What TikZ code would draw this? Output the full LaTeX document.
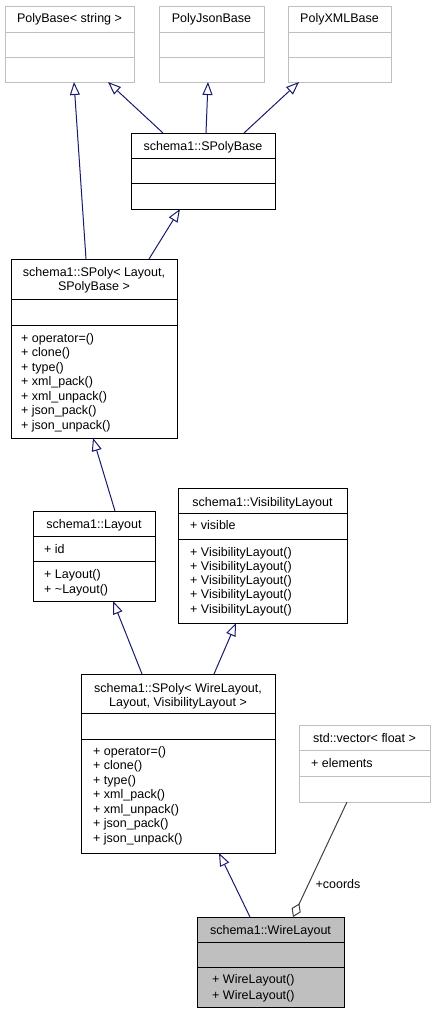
\documentclass[tikz,border=0pt]{standalone}
\usepackage{fontspec}
\setmainfont{Liberation Sans}
\usetikzlibrary{arrows.meta}
\definecolor{edgeblue}{HTML}{191970}
\definecolor{ghost}{HTML}{BFBFBF}
\definecolor{aggr}{HTML}{404040}
\definecolor{hilite}{HTML}{BFBFBF}
\newcommand\fsz{\fontsize{12.5}{14.5}\selectfont}
\newcommand\umlbox[9]{% name, style, x1,y1,x2,y2,d1,d2,divcolor
  \node[#2, minimum width={(#5-#3)*1pt}, minimum height={(#6-#4)*1pt}] (#1) at (#3,#4) {};
  \draw[#9, line width=1pt] (#3,#7) -- (#5,#7) (#3,#8) -- (#5,#8);
}
\tikzset{
  boxnode/.style={draw=black, line width=1pt, inner sep=0pt, outer sep=0pt, anchor=north west},
  ghostbox/.style={boxnode, draw=ghost},
  hibox/.style={boxnode, fill=hilite},
  ttl/.style={anchor=base, inner sep=0pt, font=\fsz},
  mem/.style={anchor=base west, inner sep=0pt, font=\fsz},
  inherit/.style={draw=edgeblue, line width=1pt, -{Triangle[open, length=13pt, width=10pt]}},
  aggregate/.style={draw=aggr, line width=1pt, -{Diamond[open, length=15pt, width=10pt]}},
}
\begin{document}
\begin{tikzpicture}[x=1pt, y=-1pt]
\useasboundingbox (0,0) rectangle (435,1013);

% boxes
\umlbox{pb}{ghostbox}{5}{6}{134}{82}{32}{57}{ghost}
\umlbox{pj}{ghostbox}{159}{6}{264}{82}{32}{57}{ghost}
\umlbox{px}{ghostbox}{288}{6}{391}{82}{32}{57}{ghost}
\umlbox{spb}{boxnode}{131}{133}{275}{209}{158}{183}{black}
\umlbox{spA}{boxnode}{11}{259}{177}{438}{299}{325}{black}
\umlbox{lay}{boxnode}{33}{511}{155}{601}{536}{561}{black}
\umlbox{vis}{boxnode}{178}{488}{347}{623}{513}{539}{black}
\umlbox{spW}{boxnode}{81}{674}{275}{853}{713}{739}{black}
\umlbox{vec}{ghostbox}{299}{725}{430}{802}{750}{776}{ghost}
\umlbox{wire}{hibox}{197}{917}{344}{1007}{942}{967}{black}

% titles
\node[ttl] (pbT) at (69.5,22) {PolyBase< string >};
\node[ttl] (pjT) at (211.5,22) {PolyJsonBase};
\node[ttl] (pxT) at (339.5,22) {PolyXMLBase};
\node[ttl] (spbT) at (203,150) {schema1::SPolyBase};
\node[ttl] (spAT1) at (94,276) {schema1::SPoly< Layout,};
\node[ttl] (spAT2) at (94,290.5) {SPolyBase >};
\node[ttl] (layT) at (94,528) {schema1::Layout};
\node[ttl] (visT) at (262.5,506) {schema1::VisibilityLayout};
\node[ttl] (spWT1) at (178,692) {schema1::SPoly< WireLayout,};
\node[ttl] (spWT2) at (178,706.5) {Layout, VisibilityLayout >};
\node[ttl] (vecT) at (364.5,742) {std::vector< float >};
\node[ttl] (wireT) at (270.5,934) {schema1::WireLayout};

% members
\foreach [count=\i] \t in {+ operator=(), + clone(), + type(), + xml\_pack(), + xml\_unpack(), + json\_pack(), + json\_unpack()}
  \node[mem] (spAm\i) at (21,{342+(\i-1)*14.5}) {\t};
\node[mem] (layA) at (44,553) {+ id};
\node[mem] (layM1) at (44,578) {+ Layout()};
\node[mem] (layM2) at (44,593) {+ \textasciitilde Layout()};
\node[mem] (visA) at (190,529) {+ visible};
\foreach [count=\i] \t in {+ VisibilityLayout(), + VisibilityLayout(), + VisibilityLayout(), + VisibilityLayout(), + VisibilityLayout()}
  \node[mem] (visM\i) at (190,{556+(\i-1)*14.3}) {\t};
\foreach [count=\i] \t in {+ operator=(), + clone(), + type(), + xml\_pack(), + xml\_unpack(), + json\_pack(), + json\_unpack()}
  \node[mem] (spWm\i) at (93,{755+(\i-1)*14.5}) {\t};
\node[mem] (vecA) at (311,767) {+ elements};
\node[mem] (wireM1) at (212,983) {+ WireLayout()};
\node[mem] (wireM2) at (212,999) {+ WireLayout()};

% inheritance connectors
\draw[inherit] ([xshift=75pt]spA.north west) -- ([xshift=69pt]pb.south west);
\draw[inherit] ([xshift=32pt]spb.north west) -- ([xshift=103pt]pb.south west);
\draw[inherit] ([xshift=75pt]spb.north west) -- ([xshift=49pt]pj.south west);
\draw[inherit] ([xshift=113pt]spb.north west) -- ([xshift=11pt]px.south west);
\draw[inherit] ([xshift=138pt]spA.north west) -- ([xshift=49pt]spb.south west);
\draw[inherit] ([xshift=82pt]lay.north west) -- ([xshift=82pt]spA.south west);
\draw[inherit] ([xshift=61pt]spW.north west) -- ([xshift=80pt]lay.south west);
\draw[inherit] ([xshift=133pt]spW.north west) -- ([xshift=58pt]vis.south west);
\draw[inherit] ([xshift=53pt]wire.north west) -- ([xshift=138pt]spW.south west);

% aggregation
\draw[aggregate] ([xshift=48pt]vec.south west) -- ([xshift=96pt]wire.north west);
\node[ttl] (coordsL) at (338,888) {+coords};
\end{tikzpicture}
\end{document}
